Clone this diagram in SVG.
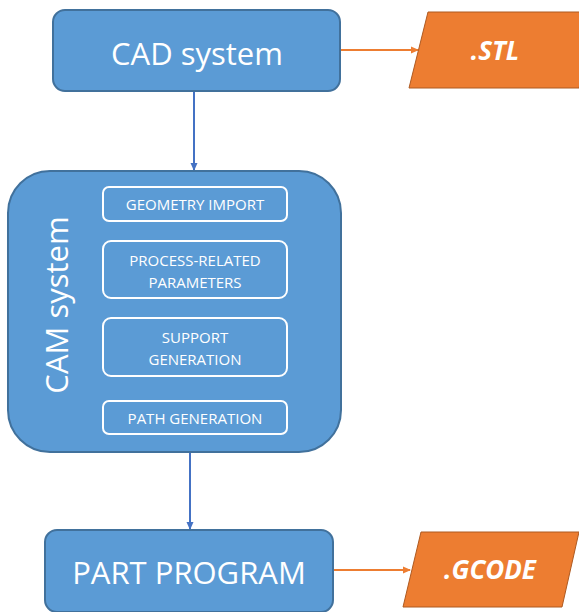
<svg xmlns="http://www.w3.org/2000/svg" width="579" height="612" viewBox="0 0 579 612">
<style>
.blue{fill:#5B9BD5;stroke:#41719C;stroke-width:2}
.orange{fill:#ED7D31;stroke:#AE5A21;stroke-width:1}
.inner{fill:none;stroke:#FFFFFF;stroke-width:2}
.t{font-family:"Open Sans","Liberation Sans",sans-serif;fill:#FFFFFF;text-anchor:middle}
.big{font-size:31px}
.small{font-size:15px}
.file{font-size:26px;font-weight:bold;font-style:italic}
.cb{stroke:#4472C4;stroke-width:2;fill:none}
.co{stroke:#ED7D31;stroke-width:2;fill:none}
</style>
<defs>
<marker id="ab" markerWidth="8" markerHeight="8" refX="7" refY="4" orient="auto" markerUnits="userSpaceOnUse"><path d="M0,0.5 L8,4 L0,7.5 Z" fill="#4472C4"/></marker>
<marker id="ao" markerWidth="8" markerHeight="8" refX="7" refY="4" orient="auto" markerUnits="userSpaceOnUse"><path d="M0,0.5 L8,4 L0,7.5 Z" fill="#ED7D31"/></marker>
</defs>
<g id="connectors">
<line class="cb" x1="194" y1="91" x2="194" y2="170" marker-end="url(#ab)"/>
<line class="cb" x1="190" y1="452" x2="190" y2="529" marker-end="url(#ab)"/>
<line class="co" x1="341" y1="50" x2="418" y2="50" marker-end="url(#ao)"/>
<line class="co" x1="333" y1="570" x2="410" y2="570" marker-end="url(#ao)"/>
</g>
<g id="cad">
<rect class="blue" x="53" y="10" width="287" height="81" rx="12"/>
<text class="t big" x="197" y="65">CAD system</text>
</g>
<g id="stl">
<polygon class="orange" points="428,12 598,12 579,88 409,88"/>
<text class="t file" x="495" y="60">.STL</text>
</g>
<g id="cam">
<rect class="blue" x="8" y="171" width="333" height="281" rx="42"/>
<text class="t big" transform="translate(68,305) rotate(-90)">CAM system</text>
</g>
<g id="geometry-import">
<rect class="inner" x="103" y="187" width="184" height="34" rx="6"/>
<text class="t small" x="195" y="209.5">GEOMETRY IMPORT</text>
</g>
<g id="process-related">
<rect class="inner" x="103" y="241" width="184" height="57" rx="8"/>
<text class="t small" x="195" y="265.5">PROCESS-RELATED</text>
<text class="t small" x="195" y="287.5">PARAMETERS</text>
</g>
<g id="support">
<rect class="inner" x="103" y="318" width="184" height="58" rx="8"/>
<text class="t small" x="195" y="342.5">SUPPORT</text>
<text class="t small" x="195" y="364.5">GENERATION</text>
</g>
<g id="path-generation">
<rect class="inner" x="103" y="401" width="184" height="33" rx="6"/>
<text class="t small" x="195" y="423.5">PATH GENERATION</text>
</g>
<g id="part-program">
<rect class="blue" x="45" y="530" width="288" height="82" rx="12"/>
<text class="t big" x="189" y="584">PART PROGRAM</text>
</g>
<g id="gcode">
<polygon class="orange" points="421,532 579,532 562,607 403,607"/>
<text class="t file" x="490" y="579">.GCODE</text>
</g>
</svg>
